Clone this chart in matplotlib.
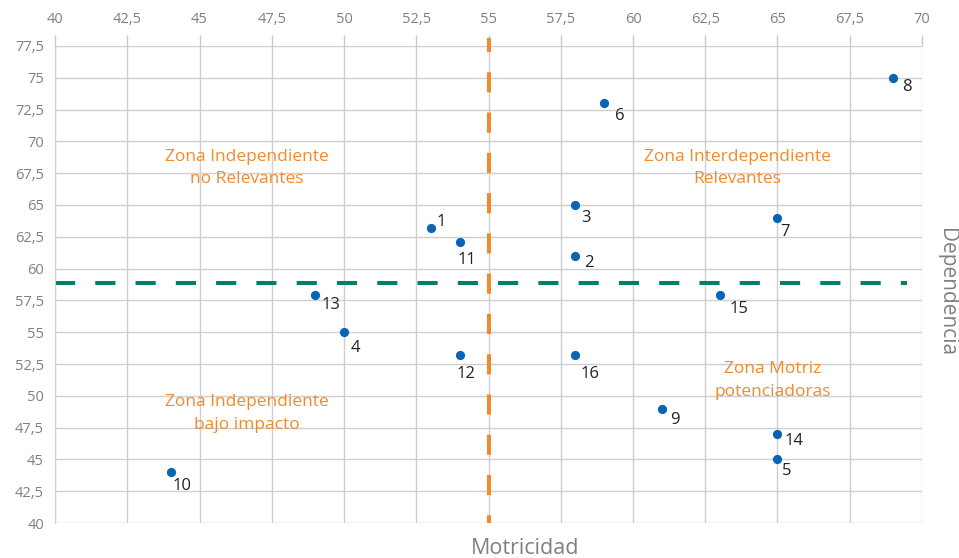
import matplotlib
matplotlib.use("Agg")
import matplotlib.pyplot as plt
from matplotlib.ticker import FixedLocator, FuncFormatter

plt.rcParams['font.family'] = ['Open Sans', 'DejaVu Sans']

ids = ["1", "2", "3", "4", "5", "6", "7", "8", "9", "10", "11", "12", "13", "14", "15", "16"]
motricidad = [53, 58, 58, 50, 65, 59, 65, 69, 61, 44, 54, 54, 49, 65, 63, 58]
dependencia = [63.2, 61, 65, 55, 45, 73, 64, 75, 49, 44, 62.1, 53.2, 57.9, 47, 57.9, 53.2]
label_offsets = {
    "1": (10, 6), "2": (14, -7), "3": (11, -13), "4": (11, -16), "5": (9, -12),
    "6": (16, -13), "7": (8, -14), "8": (14, -9), "9": (13, -11), "10": (11, -14),
    "11": (7, -18), "12": (6, -19), "13": (16, -10), "14": (17, -7), "15": (19, -14),
    "16": (15, -19),
}
x_ticks = [40, 42.5, 45, 47.5, 50, 52.5, 55, 57.5, 60, 62.5, 65, 67.5, 70]
y_ticks = [40, 42.5, 45, 47.5, 50, 52.5, 55, 57.5, 60, 62.5, 65, 67.5, 70, 72.5, 75, 77.5]
umbral_x = 55
umbral_y = 58.9
zonas = [
    ("Zona Independiente\nno Relevantes", 46.65, 67.9),
    ("Zona Interdependiente\nRelevantes", 63.6, 67.9),
    ("Zona Independiente\nbajo impacto", 46.65, 48.6),
    ("Zona Motriz\npotenciadoras", 64.85, 51.2),
]

fig = plt.figure(figsize=(9.59, 5.58), dpi=100)
ax = fig.add_axes([0.0574, 0.0627, 0.9614 - 0.0574, 0.9176 - 0.0627])
ax.set_xlim(40, 70)
ax.set_ylim(40, 77.5)

fmt = FuncFormatter(lambda v, p: ("%g" % v).replace(".", ","))
ax.xaxis.set_major_locator(FixedLocator(x_ticks))
ax.yaxis.set_major_locator(FixedLocator(y_ticks))
ax.xaxis.set_major_formatter(fmt)
ax.yaxis.set_major_formatter(fmt)
ax.xaxis.tick_top()
ax.tick_params(axis='x', colors='#c8c8c8', labelcolor='#808080', labelsize=10.5,
               length=8, width=1, direction='out', pad=6)
ax.tick_params(axis='y', length=0, labelcolor='#808080', labelsize=10.5, pad=8)
ax.grid(True, color='#cfcfcf', linewidth=1)
ax.set_axisbelow(True)
for s in ax.spines.values():
    s.set_visible(False)
ax.spines['left'].set_visible(True)
ax.spines['left'].set_color('#cfcfcf')

ax.plot([40, 69.48], [umbral_y, umbral_y], color='#007f6a', linewidth=2.9,
        linestyle=(0, (5, 5)), zorder=2, solid_capstyle='butt', dash_capstyle='butt')
ax.plot([umbral_x, umbral_x], [78.1, 40], color='#f28a2a', linewidth=2.9,
        linestyle=(1.5, (5, 5)), zorder=2, clip_on=False, dash_capstyle='butt')

ax.scatter(motricidad, dependencia, s=44, color='#0a64b4', zorder=4, linewidths=0)
for i, x, y in zip(ids, motricidad, dependencia):
    dx, dy = label_offsets[i]
    ax.annotate(i, (x, y), xytext=(dx, dy), textcoords='offset pixels',
                ha='center', va='center', fontsize=12, color='#222222', zorder=5)

for txt, x, y in zonas:
    ax.text(x, y, txt, ha='center', va='center', fontsize=12.5, color='#f28a2a',
            linespacing=1.55, zorder=3)

fig.text(525 / 959, 1 - 549 / 558, "Motricidad", ha='center', va='center',
         fontsize=15.5, color='#808080')
fig.text(946 / 959, 1 - 292 / 558, "Dependencia", ha='center', va='center',
         rotation=-90, fontsize=15, color='#808080')

fig.savefig("out.png", dpi=100)
